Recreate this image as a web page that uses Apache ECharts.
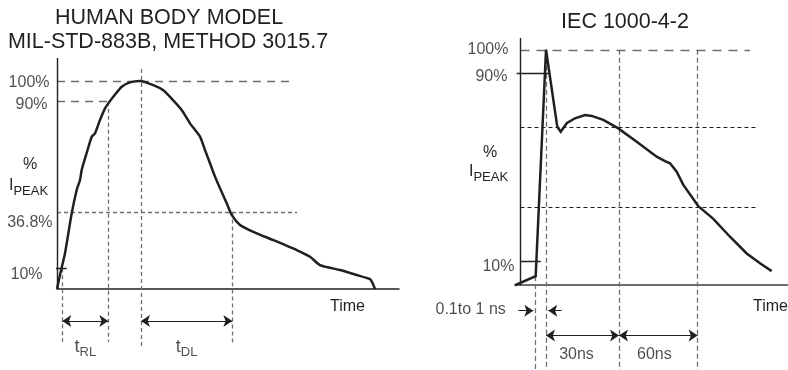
<!DOCTYPE html>
<html>
<head>
<meta charset="utf-8">
<script src="https://cdn.jsdelivr.net/npm/echarts@6/dist/echarts.min.js"></script>
<style>
html,body{margin:0;padding:0;background:#fff;}
#chart{width:788px;height:370px;}
</style>
</head>
<body>
<div id="chart"></div>
<script>
// ---------- Human Body Model (left panel), time in arbitrary units, current in % of I_PEAK ----------
const hbmTime = [0, 1.08, 2.34, 4.30, 5.76, 6.73, 7.22, 8.68, 10.15, 11.11, 12.57, 14.04, 15.0, 16.46, 18.92, 21.35, 24.27, 28.16, 30.99, 33.92, 36.46, 38.89, 41.81, 43.27, 44.74, 46.20, 47.66, 49.62, 51.08, 53.51, 57.40, 63.25, 70.09, 73.98, 76.90, 82.75, 87.63, 91.52, 92.31, 92.98];
const hbmCurrent = [0, 8.3, 17.2, 36.4, 47.6, 52.4, 57.2, 65.4, 73.2, 74.8, 81.2, 86.8, 89.2, 92.4, 97.2, 99.3, 100, 98.0, 95.6, 90.8, 86.0, 79.6, 73.2, 66.8, 60.4, 54.0, 48.4, 41.2, 35.6, 30.8, 27.5, 23.5, 18.7, 15.5, 11.5, 9.1, 6.7, 4.7, 2.7, 0];
const hbmLevels = [100, 90, 36.8, 10];
const hbmLevelLabels = ['100%', '90%', '36.8%', '10%'];
const hbmMarkTimes = [1.55, 15.0, 24.56, 51.26];          // 10% point, 90% point, peak, 36.8% point
const hbmSpanLabels = ['{t|t}{s|RL}', '{t|t}{s|DL}'];

// ---------- IEC 1000-4-2 (right panel) ----------
const iecTime = [-2, 5.58, 9.36, 13.49, 14.74, 16.94, 19.98, 23.64, 26.10, 30.34, 35.84, 42.58, 49.90, 52.95, 54.78, 57.23, 59.65, 62.73, 65.14, 70.64, 76.75, 82.87, 87.74, 92.03];
const iecCurrent = [0, 3.9, 100, 67.3, 65.2, 68.8, 70.9, 72.3, 71.9, 70.2, 66.6, 60.9, 54.6, 52.7, 51.8, 48.2, 42.6, 37.6, 33.6, 28.2, 20.6, 13.5, 9.3, 6.0];
const iecLevels = [100, 90, 10];
const iecLevelLabels = ['100%', '90%', '10%'];
const iecRefLevels = [67, 33];
const iecMarkTimes = [5.58, 9.36, 36.1, 64.9];           // rise start, peak, 30 ns, 60 ns
const iecSpanLabels = ['30ns', '60ns'];
const iecRiseLabel = '0.1to 1 ns';

// ---------- styling ----------
const FONT = "'Liberation Sans', Arial, Helvetica, sans-serif";
const INK = '#231f20';
const GREY = '#6d6e71';

function seg(a, b) { return { coords: [a, b] }; }
function lines(gi, data, color, width, type, symbol, symbolSize) {
  return {
    type: 'lines', coordinateSystem: 'cartesian2d', xAxisIndex: gi, yAxisIndex: gi,
    silent: true, z: 2,
    symbol: symbol || ['none', 'none'], symbolSize: symbolSize || 0,
    lineStyle: { color: color, width: width, type: type || 'solid', opacity: 1, curveness: 0 },
    data: data
  };
}
function axisX(gi, min, max, color, width) {
  return { gridIndex: gi, type: 'value', min: min, max: max,
    axisLine: { show: true, onZero: true, lineStyle: { color: color, width: width } },
    axisTick: { show: false }, axisLabel: { show: false }, splitLine: { show: false } };
}
function axisY(gi, min, max) {
  return { gridIndex: gi, type: 'value', min: min, max: max,
    axisLine: { show: false }, axisTick: { show: false }, axisLabel: { show: false }, splitLine: { show: false } };
}
function labelSeries(gi, items, baseLabel) {
  return {
    type: 'scatter', xAxisIndex: gi, yAxisIndex: gi, symbolSize: 1, clip: false, silent: true, z: 5,
    itemStyle: { color: 'rgba(0,0,0,0)' },
    emphasis: { disabled: true },
    label: Object.assign({ show: true, color: INK, fontSize: 16, fontFamily: FONT }, baseLabel),
    data: items
  };
}
function txt(x, y, text, size, align) {
  return { type: 'text', x: x, y: y, silent: true,
    style: { text: text, fontSize: size, fontFamily: FONT, fill: INK, align: align, verticalAlign: 'middle' } };
}
function ipeak(x, y) {
  return { type: 'text', x: x, y: y, silent: true,
    style: { text: '{a|I}{b|PEAK}', align: 'left', verticalAlign: 'middle', fill: INK,
      rich: { a: { fontSize: 16, lineHeight: 24, fontFamily: FONT, fill: INK },
              b: { fontSize: 13, lineHeight: 13, verticalAlign: 'bottom', fontFamily: FONT, fill: INK } } } };
}

const [t10, t90, tPk, t37] = hbmMarkTimes;
const [tR, tP, t30, t60] = iecMarkTimes;

// label layout tweaks (distance from axis, vertical shift)
const hbmLabelDist = [7, 9, 4, 14], hbmLabelDy = [1.5, 3, 10, 6];
const iecLabelDist = [11.5, 12.5, 5.5], iecLabelDy = [0, 3.5, 4.5];

const arrowL = -15.4, arrowR1 = -10.8, arrowR2 = -21.4;
const subRich = { t: { fontSize: 18, lineHeight: 24, fontFamily: FONT, color: INK },
                  s: { fontSize: 13, lineHeight: 12, verticalAlign: 'bottom', fontFamily: FONT, color: INK } };

const option = {
  animation: false,
  backgroundColor: '#ffffff',
  grid: [
    { left: 57, top: 58, width: 342, height: 308 },
    { left: 515, top: 38, width: 273, height: 332 }
  ],
  xAxis: [axisX(0, 0, 100, INK, 1.5), axisX(1, -2, 98, GREY, 2)],
  yAxis: [axisY(0, -37, 111), axisY(1, -36, 105)],
  graphic: [
    txt(169, 18, 'HUMAN BODY MODEL', 21.5, 'center'),
    txt(168, 42.5, 'MIL-STD-883B, METHOD 3015.7', 21.5, 'center'),
    txt(625, 22.5, 'IEC 1000-4-2', 21.5, 'center'),
    txt(30, 165, '%', 16, 'center'),
    txt(490, 153, '%', 16, 'center'),
    ipeak(9, 186),
    ipeak(469, 172),
    txt(330, 307, 'Time', 16, 'left'),
    txt(753, 307, 'Time', 16, 'left')
  ],
  series: [
    // ----- left panel -----
    lines(0, [seg([0, hbmLevels[0]], [69.6, hbmLevels[0]]), seg([0, hbmLevels[1]], [t90, hbmLevels[1]])], GREY, 1.4, [8, 6]),
    lines(0, [
      seg([0, hbmLevels[2]], [70.2, hbmLevels[2]]),
      seg([t10, hbmLevels[3]], [t10, -25.5]),
      seg([t90, hbmLevels[1]], [t90, -25.5]),
      seg([tPk, 105.7], [tPk, -28.4]),
      seg([t37, hbmLevels[2]], [t37, -26])
    ], GREY, 1.3, [4, 3]),
    lines(0, [seg([0, 0], [0, 111]), seg([-2.54, hbmLevels[3]], [2.84, hbmLevels[3]])], INK, 1.4),
    lines(0, [seg([t10, arrowL], [t90, arrowL]), seg([tPk, arrowL], [t37, arrowL])], INK, 1.2, null, ['arrow', 'arrow'], 9),
    {
      type: 'line', xAxisIndex: 0, yAxisIndex: 0, showSymbol: false, silent: true, z: 4, smooth: 0.2,
      lineStyle: { color: INK, width: 2.5 },
      data: hbmTime.map((t, i) => [t, hbmCurrent[i]])
    },
    labelSeries(0, hbmLevels.map((v, i) => ({ value: [0, v],
      label: { formatter: hbmLevelLabels[i], distance: hbmLabelDist[i], offset: [0, hbmLabelDy[i]] } })),
      { position: 'left' }),
    labelSeries(0, [
      { value: [(t10 + t90) / 2, arrowL], label: { formatter: hbmSpanLabels[0] } },
      { value: [(tPk + t37) / 2, arrowL], label: { formatter: hbmSpanLabels[1] } }
    ], { position: 'bottom', distance: 13, rich: subRich }),

    // ----- right panel -----
    lines(1, [seg([0, iecLevels[0]], [84.1, iecLevels[0]])], GREY, 1.4, [9, 7]),
    lines(1, iecRefLevels.map(v => seg([0, v], [86.6, v])), INK, 1.2, [4, 3]),
    lines(1, [
      seg([tR, iecCurrent[1]], [tR, -36]),
      seg([tP, 100], [tP, -36]),
      seg([t30, 100], [t30, -36]),
      seg([t60, 100], [t60, -36])
    ], GREY, 1.3, [5, 3]),
    lines(1, [seg([0, 0], [0, 105]), seg([-1.38, iecLevels[1]], [10.8, iecLevels[1]]), seg([0, iecLevels[2]], [7.41, iecLevels[2]])], INK, 1.4),
    lines(1, [seg([tP, arrowR2], [t30, arrowR2]), seg([t30, arrowR2], [t60, arrowR2])], INK, 1.2, null, ['arrow', 'arrow'], 9),
    lines(1, [seg([-0.8, arrowR1], [4.7, arrowR1]), seg([15.1, arrowR1], [10.2, arrowR1])], INK, 1.2, null, ['none', 'arrow'], 9),
    {
      type: 'line', xAxisIndex: 1, yAxisIndex: 1, showSymbol: false, silent: true, z: 4, smooth: false,
      lineStyle: { color: INK, width: 2.5, join: 'miter' },
      data: iecTime.map((t, i) => [t, iecCurrent[i]])
    },
    labelSeries(1, iecLevels.map((v, i) => ({ value: [0, v],
      label: { formatter: iecLevelLabels[i], distance: iecLabelDist[i], offset: [0, iecLabelDy[i]] } })),
      { position: 'left' }),
    labelSeries(1, [
      { value: [-0.8, arrowR1], label: { formatter: iecRiseLabel, position: 'left', distance: 12, offset: [0, -1.5] } },
      { value: [(tP + t30) / 2, arrowR2], label: { formatter: iecSpanLabels[0], offset: [-6, 0] } },
      { value: [(t30 + t60) / 2, arrowR2], label: { formatter: iecSpanLabels[1], offset: [-4, 0] } }
    ], { position: 'bottom', distance: 10 })
  ]
};

const chart = echarts.init(document.getElementById('chart'), null, { renderer: 'canvas' });
chart.setOption(option);
</script>
</body>
</html>
